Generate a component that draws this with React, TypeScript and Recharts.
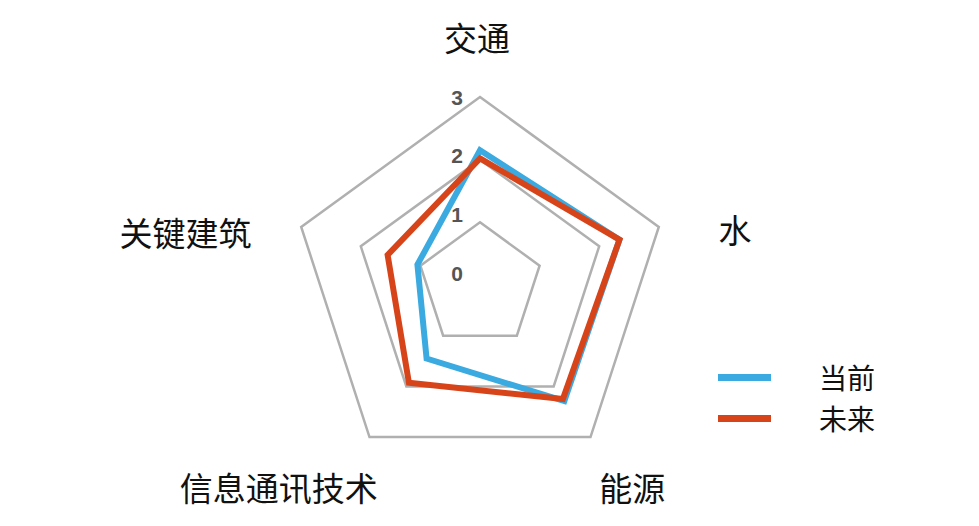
import React from 'react';
import { RadarChart, Radar, PolarGrid, PolarAngleAxis, PolarRadiusAxis, Legend } from 'recharts';

// 雷达图数据
const categories = ['交通', '水', '能源', '信息通讯技术', '关键建筑'];
const currentValues = [2.15, 2.34, 2.29, 1.45, 1.05];
const futureValues = [2.02, 2.34, 2.25, 1.93, 1.55];
const radiusTicks = [0, 1, 2, 3];
const seriesNames = { current: '当前', future: '未来' };

const BLUE = '#3aaae0';
const ORANGE = '#d8441a';
const CJK_FONT = '"Noto Sans CJK SC", sans-serif';

const chartData = categories.map((name, i) => ({
  name,
  current: currentValues[i],
  future: futureValues[i],
}));

// 轴标签：按方向放在五边形外侧
const AngleTick = ({ x, y, cx, cy, payload }: any) => {
  const ux = x - cx;
  const uy = y - cy;
  let anchor: 'start' | 'middle' | 'end' = 'middle';
  let dx = 0;
  let dy = 0;
  if (uy < -150) {
    dx = -3; dy = -52;
  } else if (uy < 0) {
    anchor = ux > 0 ? 'start' : 'end';
    dx = ux > 0 ? 52 : -42;
    dy = ux > 0 ? 5 : 8;
  } else {
    anchor = ux > 0 ? 'start' : 'end';
    dx = ux > 0 ? 4 : 13;
    dy = 43;
  }
  return (
    <text
      x={x + dx}
      y={y + dy}
      textAnchor={anchor}
      dominantBaseline="central"
      fontFamily={CJK_FONT}
      fontSize={33}
      fill="#111"
    >
      {payload.value}
    </text>
  );
};

// 刻度数字
const RadiusTick = ({ x, y, payload }: any) => (
  <text
    x={x - 23}
    y={y - 12 + 4 * payload.value}
    textAnchor="middle"
    dominantBaseline="central"
    fontFamily="'Liberation Sans', Arial, sans-serif"
    fontWeight="bold"
    fontSize={21}
    fill="#555"
  >
    {payload.value}
  </text>
);

const LegendContent = ({ payload }: any) => (
  <div>
    {(payload || []).map((item: any) => (
      <div key={item.value} style={{ display: 'flex', alignItems: 'center', height: 41 }}>
        <div style={{ width: 53, height: 7, background: item.color }} />
        <span
          style={{
            marginLeft: 48,
            display: 'inline-block',
            fontFamily: CJK_FONT,
            fontSize: 28,
            color: '#111',
            lineHeight: '41px',
          }}
        >
          {item.value}
        </span>
      </div>
    ))}
  </div>
);

export default function App() {
  return (
    <div style={{ margin: -8, width: 979, height: 526, background: '#fff' }}>
      <RadarChart
        width={979}
        height={526}
        data={chartData}
        cx={480}
        cy={285}
        outerRadius={188}
        margin={{ top: 0, right: 0, bottom: 0, left: 0 }}
      >
        <PolarGrid gridType="polygon" radialLines={false} stroke="#b0b0b0" strokeWidth={2.5} />
        <PolarAngleAxis dataKey="name" tick={<AngleTick />} axisLine={false} tickLine={false} />
        <PolarRadiusAxis
          angle={90}
          domain={[0, 3]}
          ticks={radiusTicks}
          tickCount={4}
          axisLine={false}
          tickLine={false}
          tick={<RadiusTick />}
        />
        <Radar
          name={seriesNames.current}
          dataKey="current"
          stroke={BLUE}
          strokeWidth={6}
          fill="none"
          fillOpacity={0}
          dot={false}
          isAnimationActive={false}
        />
        <Radar
          name={seriesNames.future}
          dataKey="future"
          stroke={ORANGE}
          strokeWidth={6}
          fill="none"
          fillOpacity={0}
          dot={false}
          isAnimationActive={false}
        />
        <Legend
          layout="vertical"
          content={<LegendContent />}
          wrapperStyle={{ position: 'absolute', left: 718, top: 357, width: 200 }}
        />
      </RadarChart>
    </div>
  );
}
